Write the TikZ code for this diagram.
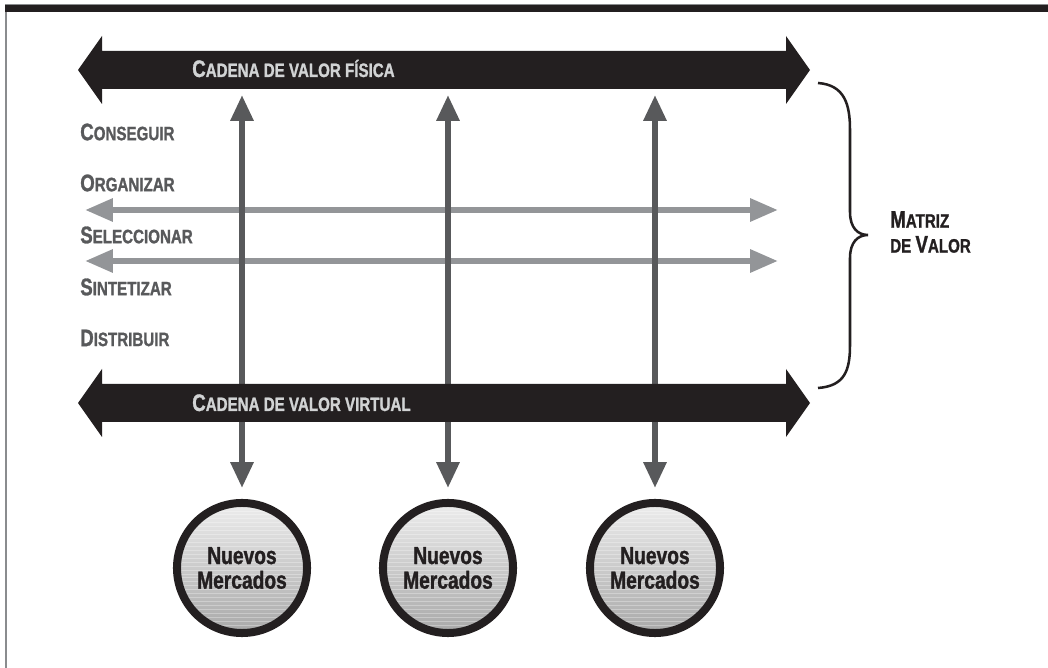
\documentclass[tikz,border=0pt]{standalone}
\usepackage{fontspec}
\newfontfamily\condsf{Liberation Sans}[FakeStretch=0.78, FakeBold=1.2]
\usetikzlibrary{arrows.meta,positioning}

\definecolor{barblack}{HTML}{231F20}
\definecolor{darkarrow}{HTML}{58595B}
\definecolor{lightarrow}{HTML}{939598}
\definecolor{bartext}{HTML}{D1D3D4}
\definecolor{framegray}{HTML}{8A8C8E}

\newcommand\bigini[1]{{\fontsize{17}{19}\selectfont #1}}

\tikzset{
	stufe/.style={font=\condsf\bfseries\fontsize{13.8}{15}\selectfont, text=darkarrow, anchor=west, inner sep=0pt},
	bartxt/.style={font=\condsf\bfseries\fontsize{13.8}{15}\selectfont, text=bartext, anchor=base west, inner sep=0pt},
	vpfeil/.style={darkarrow, line width=4.3pt, {Triangle[width=15.6pt,length=18.4pt]}-{Triangle[width=15.6pt,length=18.4pt]}},
	hpfeil/.style={lightarrow, line width=4.3pt, {Triangle[width=15.6pt,length=19.8pt]}-{Triangle[width=15.6pt,length=19.8pt]}},
	markt/.style={circle, draw=barblack, line width=5.7pt, minimum size=3.25cm, inner sep=0pt,
		top color=black!7, bottom color=black!34, text=barblack, align=center,
		font=\condsf\bfseries\fontsize{17.5}{17.5}\selectfont,
		path picture={\foreach \k in {1,...,34}
			\draw[white, opacity=.3, line width=.5pt] ([yshift=-\k*2.8pt]path picture bounding box.north west) -- ([yshift=-\k*2.8pt]path picture bounding box.north east);}},
}

\begin{document}
\begin{tikzpicture}[x=0.025cm, y=-0.025cm]
		\useasboundingbox (0,0) rectangle (1048,668);
		% rahmen
		\fill[framegray] (5,4) rectangle (7,668);
		\fill[framegray] (5,4) rectangle (1048,5);
		\fill[barblack] (5,5) rectangle (1048,12);

		% stufen
		\node[stufe] (conseguir) at (80,132) {\bigini{C}ONSEGUIR};
		\node[stufe] (organizar) at (80,183) {\bigini{O}RGANIZAR};
		\node[stufe] (seleccionar) at (80,235) {\bigini{S}ELECCIONAR};
		\node[stufe] (sintetizar) at (80,287) {\bigini{S}INTETIZAR};
		\node[stufe] (distribuir) at (80,338) {\bigini{D}ISTRIBUIR};

		% horizontale pfeile
		\coordinate (hl1) at (85,210);  \coordinate (hr1) at (778,210);
		\coordinate (hl2) at (85,261);  \coordinate (hr2) at (778,261);
		\draw[hpfeil] (hl1) -- (hr1);
		\draw[hpfeil] (hl2) -- (hr2);

		% neue maerkte
		\node[markt] (m1) at (242,568) {Nuevos\\Mercados};
		\node[markt] (m2) at (448,568) {Nuevos\\Mercados};
		\node[markt] (m3) at (655,568) {Nuevos\\Mercados};
		\coordinate (v1) at (242,95);
		\coordinate (v2) at (448,95);
		\coordinate (v3) at (655,95);
		\draw[vpfeil, shorten >=7.8pt] (v1) -- (m1);
		\draw[vpfeil, shorten >=7.8pt] (v2) -- (m2);
		\draw[vpfeil, shorten >=7.8pt] (v3) -- (m3);

		% wertketten
		\fill[barblack] (78,70) -- ++(24,-34) -- ++(0,15) -- (786,51) -- ++(0,-15) -- ++(24,34) -- ++(-24,34) -- ++(0,-15) -- (102,89) -- ++(0,15) -- cycle;
		\fill[barblack] (78,403) -- ++(24,-34) -- ++(0,15) -- (786,384) -- ++(0,-15) -- ++(24,34) -- ++(-24,34) -- ++(0,-15) -- (102,422) -- ++(0,15) -- cycle;
		\node[bartxt] (fisica) at (192,77) {\bigini{C}ADENA DE VALOR FÍSICA};
		\node[bartxt] (virtual) at (192,411) {\bigini{C}ADENA DE VALOR VIRTUAL};

		% klammer
		\coordinate (spitze) at (868,235);
		\draw[barblack, line width=1.8pt] (818,83) .. controls (845,85) and (850,105) .. (850,130) -- (850,212) .. controls (850,228) and (858,235) .. (spitze) .. controls (858,235) and (850,242) .. (850,258) -- (850,345) .. controls (850,370) and (845,386) .. (818,388);
		\node[font=\condsf\bfseries\fontsize{13.8}{17.7}\selectfont, text=barblack, align=left, anchor=west, inner sep=0pt] (matriz) at (890,232) {\bigini{M}ATRIZ\\DE \bigini{V}ALOR};
		\end{tikzpicture}
\end{document}
